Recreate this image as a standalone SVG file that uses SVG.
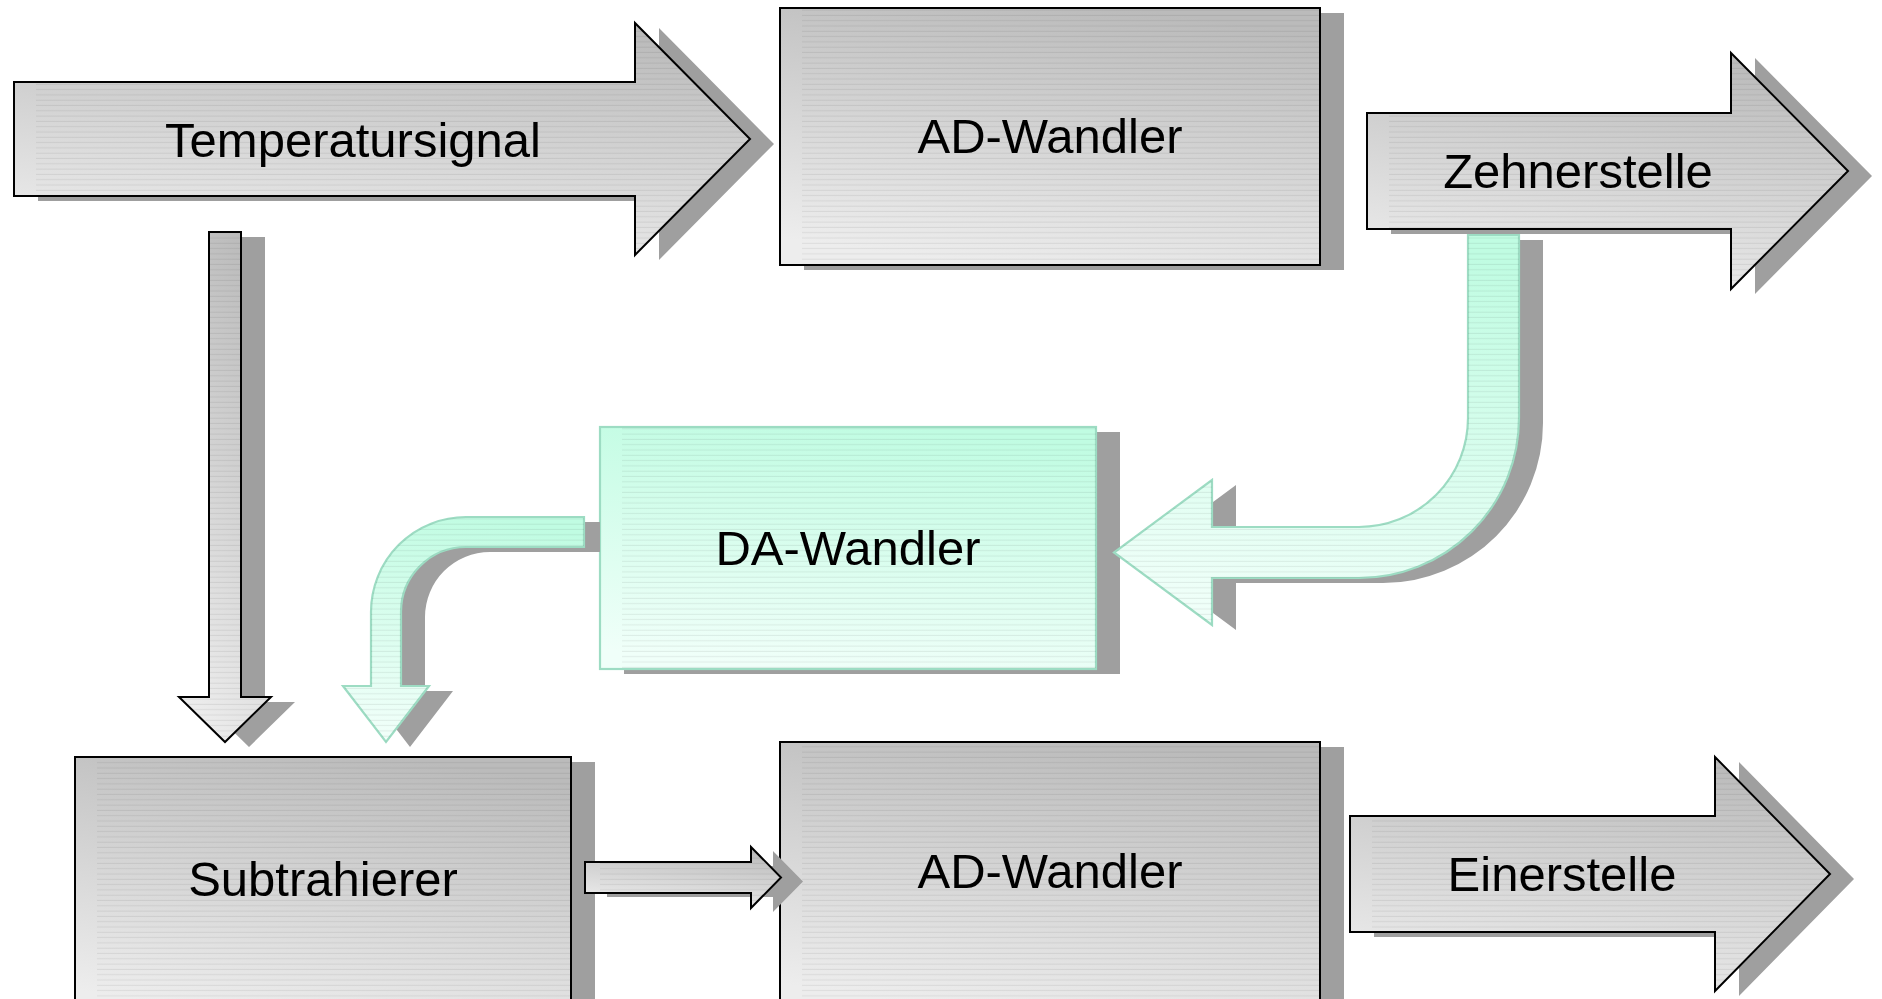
<svg xmlns="http://www.w3.org/2000/svg" xmlns:xlink="http://www.w3.org/1999/xlink" width="1882" height="999" viewBox="0 0 1882 999">
  <style>
    .shadow { fill: #9f9f9f; }
    .gray { fill: url(#gGray); stroke: #000; stroke-width: 2; stroke-linejoin: miter; }
    .green { fill: url(#gGreen); stroke: #9ddcc3; stroke-width: 2.2; stroke-linejoin: miter; }
    .streak { fill: url(#pStreak); }
    .label { font-family: "Liberation Sans", Arial, sans-serif; font-size: 49px; fill: #000; text-anchor: middle; }
  </style>
  <defs>
    <linearGradient id="gGray" x1="0.65" y1="0" x2="0.35" y2="1">
      <stop offset="0" stop-color="#bbbbbb"/>
      <stop offset="1" stop-color="#ededed"/>
    </linearGradient>
    <linearGradient id="gGreen" x1="0.6" y1="0" x2="0.4" y2="1">
      <stop offset="0" stop-color="#c0fce2"/>
      <stop offset="1" stop-color="#f0fff9"/>
    </linearGradient>
    <!-- fine horizontal scan lines over the fills -->
    <pattern id="pStreak" patternUnits="userSpaceOnUse" width="10" height="5.3">
      <rect x="0" y="4.3" width="10" height="1" fill="#000" fill-opacity="0.07"/>
    </pattern>

    <!-- shape outlines -->
    <path id="sTemp" d="M14,82 H635 V23 L750,139 L635,255 V196 H14 Z"/>
    <rect id="sAd1" x="780" y="8" width="540" height="257"/>
    <path id="sZehner" d="M1367,113 H1731 V53 L1848,171 L1731,289 V229 H1367 Z"/>
    <rect id="sDa" x="600" y="427" width="496" height="242"/>
    <rect id="sSub" x="75" y="757" width="496" height="260"/>
    <rect id="sAd2" x="780" y="742" width="540" height="270"/>
    <path id="sEiner" d="M1350,816 H1715 V757 L1830,874 L1715,991 V932 H1350 Z"/>

    <path id="cDown" d="M209,232 H241 V697 H271 L225,742 L179,697 H209 Z"/>
    <path id="cBack" d="M1468,235 H1519 V418 A160,160 0 0 1 1359,578 H1212 V625 L1114,552.5 L1212,480 V527 H1359 A109,109 0 0 0 1468,418 Z"/>
    <path id="cFeed" d="M584,517 H466 A95,95 0 0 0 371,612 V686 H343 L386,742 L429,686 H401 V612 A65,65 0 0 1 466,547 H584 Z"/>
    <path id="cFeedShadow" d="M576,517 H466 A95,95 0 0 0 371,612 V686 H343 L386,742 L429,686 H401 V612 A65,65 0 0 1 466,547 H576 Z"/>
    <path id="cSub" d="M585,862 H751 V847 L781,877.5 L751,908 V893 H585 Z"/>

    <clipPath id="kTemp"><use xlink:href="#sTemp"/></clipPath>
    <clipPath id="kAd1"><use xlink:href="#sAd1"/></clipPath>
    <clipPath id="kZehner"><use xlink:href="#sZehner"/></clipPath>
    <clipPath id="kDa"><use xlink:href="#sDa"/></clipPath>
    <clipPath id="kSub"><use xlink:href="#sSub"/></clipPath>
    <clipPath id="kAd2"><use xlink:href="#sAd2"/></clipPath>
    <clipPath id="kEiner"><use xlink:href="#sEiner"/></clipPath>
    <clipPath id="kDown"><use xlink:href="#cDown"/></clipPath>
    <clipPath id="kBack"><use xlink:href="#cBack"/></clipPath>
    <clipPath id="kFeed"><use xlink:href="#cFeed"/></clipPath>
    <clipPath id="kCSub"><use xlink:href="#cSub"/></clipPath>
  </defs>

  <rect x="0" y="0" width="1882" height="999" fill="#fff"/>

  <!-- Temperatursignal (input arrow) -->
  <g id="temperatursignal">
    <use xlink:href="#sTemp" class="shadow" transform="translate(24,5)"/>
    <use xlink:href="#sTemp" class="gray"/>
    <rect x="36" y="20" width="720" height="240" class="streak" clip-path="url(#kTemp)"/>
    <text x="353" y="157" class="label">Temperatursignal</text>
  </g>

  <!-- first AD converter -->
  <g id="ad-wandler-1">
    <use xlink:href="#sAd1" class="shadow" transform="translate(24,5)"/>
    <use xlink:href="#sAd1" class="gray"/>
    <rect x="802" y="8" width="518" height="257" class="streak" clip-path="url(#kAd1)"/>
    <text x="1050" y="153" class="label">AD-Wandler</text>
  </g>

  <!-- Zehnerstelle (tens digit output) -->
  <g id="zehnerstelle">
    <use xlink:href="#sZehner" class="shadow" transform="translate(24,5)"/>
    <use xlink:href="#sZehner" class="gray"/>
    <rect x="1389" y="50" width="465" height="245" class="streak" clip-path="url(#kZehner)"/>
    <text x="1578" y="188" class="label">Zehnerstelle</text>
  </g>

  <!-- DA converter -->
  <g id="da-wandler">
    <use xlink:href="#sDa" class="shadow" transform="translate(24,5)"/>
    <use xlink:href="#sDa" class="green"/>
    <rect x="622" y="427" width="474" height="242" class="streak" clip-path="url(#kDa)"/>
    <text x="848" y="565" class="label">DA-Wandler</text>
  </g>

  <!-- Subtrahierer -->
  <g id="subtrahierer">
    <use xlink:href="#sSub" class="shadow" transform="translate(24,5)"/>
    <use xlink:href="#sSub" class="gray"/>
    <rect x="97" y="757" width="474" height="260" class="streak" clip-path="url(#kSub)"/>
    <text x="323" y="896" class="label">Subtrahierer</text>
  </g>

  <!-- second AD converter -->
  <g id="ad-wandler-2">
    <use xlink:href="#sAd2" class="shadow" transform="translate(24,5)"/>
    <use xlink:href="#sAd2" class="gray"/>
    <rect x="802" y="742" width="518" height="270" class="streak" clip-path="url(#kAd2)"/>
    <text x="1050" y="888" class="label">AD-Wandler</text>
  </g>

  <!-- Einerstelle (units digit output) -->
  <g id="einerstelle">
    <use xlink:href="#sEiner" class="shadow" transform="translate(24,5)"/>
    <use xlink:href="#sEiner" class="gray"/>
    <rect x="1372" y="755" width="465" height="240" class="streak" clip-path="url(#kEiner)"/>
    <text x="1562" y="891" class="label">Einerstelle</text>
  </g>

  <!-- block-arrow connectors -->
  <g id="connectors">
    <g id="temp-to-sub">
      <use xlink:href="#cDown" class="shadow" transform="translate(24,5)"/>
      <use xlink:href="#cDown" class="gray"/>
      <rect x="175" y="232" width="100" height="512" class="streak" clip-path="url(#kDown)"/>
    </g>
    <g id="zehner-to-da">
      <use xlink:href="#cBack" class="shadow" transform="translate(24,5)"/>
      <use xlink:href="#cBack" class="green"/>
      <rect x="1110" y="235" width="412" height="395" class="streak" clip-path="url(#kBack)"/>
    </g>
    <g id="da-to-sub">
      <use xlink:href="#cFeedShadow" class="shadow" transform="translate(24,5)"/>
      <use xlink:href="#cFeed" class="green"/>
      <rect x="340" y="515" width="246" height="230" class="streak" clip-path="url(#kFeed)"/>
    </g>
    <g id="sub-to-ad">
      <use xlink:href="#cSub" class="shadow" transform="translate(22,4)"/>
      <use xlink:href="#cSub" class="gray"/>
      <rect x="600" y="845" width="185" height="65" class="streak" clip-path="url(#kCSub)"/>
    </g>
  </g>
</svg>
